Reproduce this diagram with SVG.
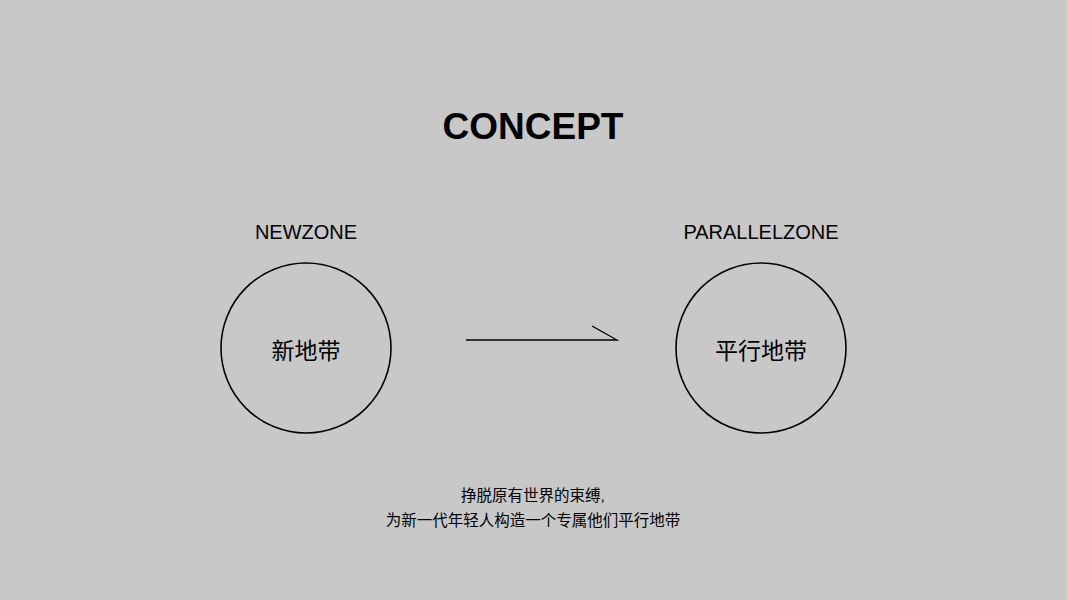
<svg xmlns="http://www.w3.org/2000/svg" width="1067" height="600" viewBox="0 0 1067 600">
<style>
.lat{font-family:"Liberation Sans",Arial,sans-serif;fill:#000}
.cjk{font-family:"Liberation Sans","Noto Sans CJK SC",sans-serif;fill:#000}
.ring{fill:none;stroke:#000;stroke-width:1.6}
.conn{fill:none;stroke:#000;stroke-width:1.3}
</style>
<rect width="1067" height="600" fill="#c8c8c8"/>
<text class="lat" x="533" y="139" font-size="37" font-weight="bold" text-anchor="middle">CONCEPT</text>
<g id="newzone">
<text class="lat" x="306" y="239" font-size="20" text-anchor="middle">NEWZONE</text>
<circle class="ring" cx="306" cy="348" r="85"/>
<text class="cjk" x="306" y="359" font-size="23" text-anchor="middle">新地带</text>
</g>
<g id="parallelzone">
<text class="lat" x="761" y="239" font-size="20" text-anchor="middle">PARALLELZONE</text>
<circle class="ring" cx="761" cy="348" r="85"/>
<text class="cjk" x="761" y="359" font-size="23" text-anchor="middle">平行地带</text>
</g>
<g id="connectors">
<path class="conn" d="M466 340 H617 L592 326"/>
</g>
<g id="caption">
<text class="cjk" x="533" y="501" font-size="15.5" text-anchor="middle">挣脱原有世界的束缚,</text>
<text class="cjk" x="533" y="526" font-size="15.5" text-anchor="middle">为新一代年轻人构造一个专属他们平行地带</text>
</g>
</svg>
